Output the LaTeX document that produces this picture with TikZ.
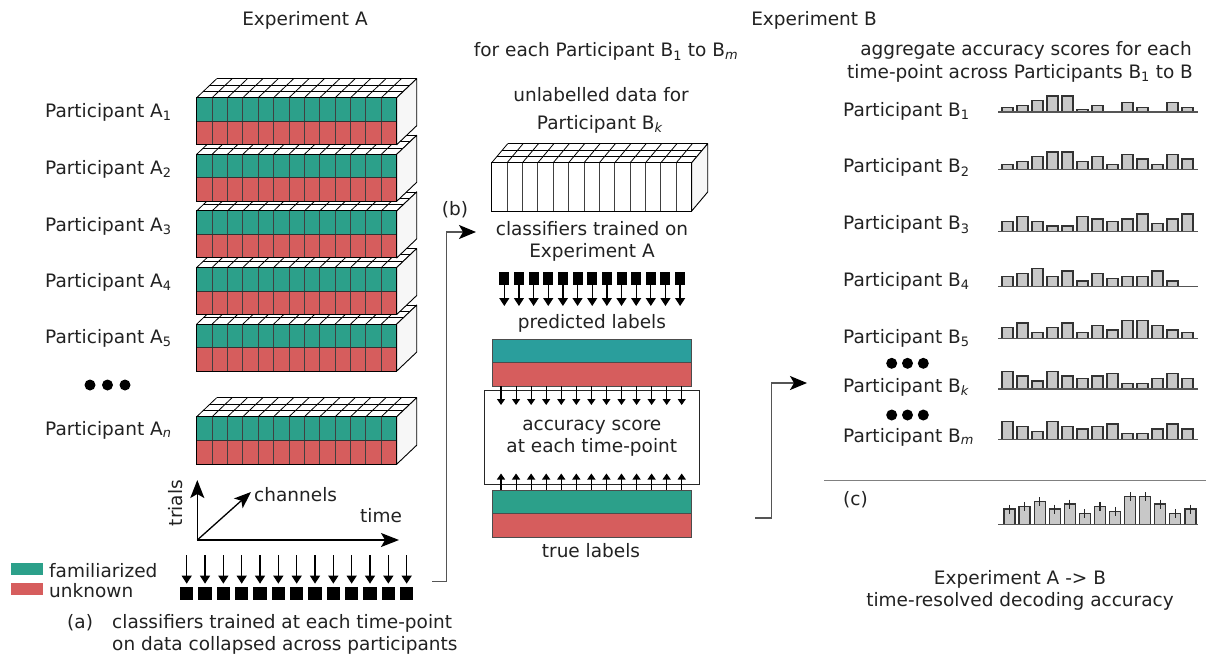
\documentclass[tikz,border=0pt]{standalone}
\usepackage{fontspec}
\setmainfont{DejaVu Sans}
\usetikzlibrary{arrows.meta}
\definecolor{fam}{HTML}{2CA08A}
\definecolor{famp}{HTML}{2A9E9C}
\definecolor{unk}{HTML}{D65D5D}
\definecolor{txt}{HTML}{222222}
\definecolor{conn}{HTML}{555555}
\definecolor{barfill}{HTML}{C8C8C8}
\definecolor{sidef}{HTML}{F7F7F7}
\newcommand{\dblk}[8]{% #1 x0, #2 ytop, #3 dx, #4 dy, #5 h, #6 upper, #7 lower, #8 middle line style
  \fill[white] (#1,#2) -- ++(200,0) -- ++(#3,-#4) -- ++(-200,0) -- cycle;
  \foreach \i in {0,...,13} \draw[gridline] ({#1+\i*200/13},#2) -- ++(#3,-#4);
  \foreach \f in {0.3333,0.6667,1} \draw[gridline] ({#1+\f*#3},{#2-\f*#4}) -- ++(200,0);
  \filldraw[fill=sidef,draw=black,line width=0.9pt,line join=round] (#1+200,#2) -- ++(#3,-#4) -- ++(0,#5) -- ++(-#3,#4) -- cycle;
  \fill[#6] (#1,#2) rectangle ++(200,{#5/2});
  \fill[#7] (#1,{#2+#5/2}) rectangle ++(200,{#5/2});
  \foreach \i in {1,...,12} \draw[cellline] ({#1+\i*200/13},#2) -- ++(0,#5);
  \draw[#8] (#1,{#2+#5/2}) -- ++(200,0);
  \draw[black,line width=1pt] (#1,#2) rectangle ++(200,#5);
}
\newcommand{\barrow}[2]{%
  \foreach \h [count=\k from 0] in {#2} {%
    \ifdim \h pt>0pt \filldraw[barst] ({1002+\k*15},#1) rectangle ++(11,-\h);\fi}
  \draw[baseln] (998,#1) -- (1198,#1);
}
\begin{document}
\begin{tikzpicture}[x=1pt,y=-1pt,
  lbl/.style={text=txt,font=\fontsize{18.5}{22}\selectfont,inner sep=0pt},
  gridline/.style={draw=black,line width=0.8pt},
  cellline/.style={draw=black!75,line width=1pt},
  midline/.style={draw=black!80,line width=1pt},
  nomid/.style={draw=none},
  barst/.style={fill=barfill,draw=black!80,line width=1.2pt},
  baseln/.style={draw=conn,line width=1.5pt},
  conarr/.style={draw=conn,line width=1.5pt,-{Stealth[length=17pt,width=14pt,inset=4pt,color=black]}},
  axarr/.style={draw=black,line width=1.5pt,-{Stealth[length=18pt,width=14pt,inset=4pt]}},
  smallarr/.style={draw=black,line width=1.3pt,-{Triangle[width=10pt,length=8pt]}},
  tinyarr/.style={draw=black,line width=1.1pt,-{Triangle[width=8pt,length=6pt]}},
  sqA/.style={fill=black,minimum width=13.3pt,minimum height=13.3pt,inner sep=0pt},
  sqB/.style={fill=black,minimum width=10pt,minimum height=13.3pt,inner sep=0pt},
  dot/.style={circle,fill=black,minimum size=11pt,inner sep=0pt}]
\useasboundingbox (0,0) rectangle (1206,659);
\fill[white] (0,0) rectangle (1206,659);

% ---------------- Experiment A ----------------
\node[lbl] (expA) at (305,20) {Experiment A};
\dblk{196.7}{416.7}{20}{19}{47.5}{fam}{unk}{midline}
\foreach \j in {4,3,2,1,0} {\dblk{196.7}{97.7+\j*56.6}{20}{19}{47}{fam}{unk}{midline}}
\node[lbl,anchor=west] (pa1) at (45,112) {Participant A\textsubscript{1}};
\node[lbl,anchor=west] (pa2) at (45,169) {Participant A\textsubscript{2}};
\node[lbl,anchor=west] (pa3) at (45,226) {Participant A\textsubscript{3}};
\node[lbl,anchor=west] (pa4) at (45,282) {Participant A\textsubscript{4}};
\node[lbl,anchor=west] (pa5) at (45,338) {Participant A\textsubscript{5}};
\node[lbl,anchor=west] (pan) at (45,430) {Participant A\textsubscript{\textit{n}}};
\node[dot] (da1) at (90,385) {};
\node[dot] (da2) at (107.5,385) {};
\node[dot] (da3) at (125,385) {};

% axes
\coordinate (ax0) at (197.3,540);
\coordinate (axT) at (197.3,480);
\coordinate (axX) at (399,540);
\coordinate (axC) at (251,492);
\draw[axarr] (ax0) -- (axT);
\draw[axarr] (ax0) -- (axX);
\draw[line width=1.3pt,-{Stealth[length=17pt,width=13pt,inset=4pt]}] (ax0) -- (axC);
\node[lbl,rotate=90] (trials) at (176,503) {trials};
\node[lbl,anchor=west] (chan) at (254,495) {channels};
\node[lbl] (time) at (381,516) {time};

% classifiers
\foreach \i in {0,...,12} {
  \node[sqA] (sa\i) at ({186.7+\i*18.33},593.5) {};
  \coordinate (ta\i) at ({186.7+\i*18.33},555);
  \draw[smallarr,shorten >=3pt] (ta\i) -- (sa\i.north);
}
% legend
\node[fill=fam,minimum width=32pt,minimum height=12pt,inner sep=0pt] (lgf) at (27,569) {};
\node[fill=unk,minimum width=32pt,minimum height=12pt,inner sep=0pt] (lgu) at (27,589) {};
\node[lbl,anchor=west] (lft) at (49,571) {familiarized};
\node[lbl,anchor=west] (lut) at (49,591) {unknown};
\node[lbl,anchor=west] (capa) at (67,623) {(a)};
\node[lbl,anchor=west,align=left] (capb) at (112,634) {classifiers trained at each time-point\\on data collapsed across participants};

% connector (a) -> (b)
\coordinate (c1a) at (432,581.7);
\coordinate (c1b) at (446.5,581.7);
\coordinate (c1c) at (446.5,232);
\coordinate (c1d) at (476,232);
\draw[conarr] (c1a) -- (c1b) -- (c1c) -- (c1d);
\node[lbl] (lb) at (455,210) {(b)};

% ---------------- Experiment B (middle) ----------------
\node[lbl] (expB) at (814,20) {Experiment B};
\node[lbl] (foreach) at (606,51.5) {for each Participant B\textsubscript{1} to B\textsubscript{\textit{m}}};
\node[lbl] (unl1) at (601,95) {unlabelled data for};
\node[lbl] (unl2) at (600,124) {Participant B\textsubscript{\textit{k}}};
\dblk{491.7}{162.7}{16}{19}{48.3}{white}{white}{nomid}
\node[lbl,align=center] (clf) at (592,241.5) {classifiers trained on\\Experiment A};
\foreach \i in {0,...,12} {
  \node[sqB] (sb\i) at ({504.3+\i*14.65},278.3) {};
  \coordinate (tb\i) at ({504.3+\i*14.65},306);
  \draw[smallarr] (sb\i.south) -- (tb\i);
}
\node[lbl] (pred) at (592,323) {predicted labels};
\filldraw[fill=famp,draw=black!70,line width=0.8pt] (492.3,339.3) rectangle (691.7,362.3);
\filldraw[fill=unk,draw=black!70,line width=0.8pt] (492.3,362.3) rectangle (691.7,386);
\node[draw=black!85,line width=1pt,fill=white,minimum width=215pt,minimum height=94.3pt,inner sep=0pt] (accbox) at (591.8,437.2) {};
\node[lbl,align=center] (acc) at (591.8,437.8) {accuracy score\\at each time-point};
\foreach \i in {0,...,12} {
  \coordinate (pd\i) at ({501+\i*15.06},386);
  \coordinate (pe\i) at ({501+\i*15.06},405);
  \draw[tinyarr] (pd\i) -- (pe\i);
  \coordinate (td\i) at ({501+\i*15.06},490);
  \coordinate (te\i) at ({501+\i*15.06},473.5);
  \draw[tinyarr] (td\i) -- (te\i);
}
\filldraw[fill=fam,draw=black!70,line width=0.8pt] (492.3,490) rectangle (691.7,513.3);
\filldraw[fill=unk,draw=black!70,line width=0.8pt] (492.3,513.3) rectangle (691.7,537.3);
\node[lbl] (truel) at (591,551) {true labels};

% connector (b) -> right
\coordinate (c2a) at (755,518);
\coordinate (c2b) at (771.7,518);
\coordinate (c2c) at (771.7,383);
\coordinate (c2d) at (807,383);
\draw[conarr] (c2a) -- (c2b) -- (c2c) -- (c2d);

% ---------------- right part ----------------
\node[lbl] (agg1) at (1026,50) {aggregate accuracy scores for each};
\node[lbl,anchor=west] (agg2) at (847,73) {time-point across Participants B\textsubscript{1} to B};
\node[lbl,anchor=west] (pb1) at (843,111) {Participant B\textsubscript{1}};
\node[lbl,anchor=west] (pb2) at (843,167.5) {Participant B\textsubscript{2}};
\node[lbl,anchor=west] (pb3) at (843,224.5) {Participant B\textsubscript{3}};
\node[lbl,anchor=west] (pb4) at (843,281) {Participant B\textsubscript{4}};
\node[lbl,anchor=west] (pb5) at (843,338) {Participant B\textsubscript{5}};
\node[lbl,anchor=west] (pbk) at (843,387) {Participant B\textsubscript{\textit{k}}};
\node[lbl,anchor=west] (pbm) at (843,437) {Participant B\textsubscript{\textit{m}}};
\node[dot] (db1) at (891.7,363.3) {};
\node[dot] (db2) at (907.5,363.3) {};
\node[dot] (db3) at (923.3,363.3) {};
\node[dot] (db4) at (891.7,415) {};
\node[dot] (db5) at (907.5,415) {};
\node[dot] (db6) at (923.3,415) {};

\barrow{112}{4.3,6.7,11.7,16,16,2.3,6.7,0,9.3,4.3,0,9.3,4.3}
\barrow{169.3}{5,7.7,12.7,17.3,17.3,7.7,12.7,5,15,10.3,5,15,10.3}
\barrow{231.7}{10.3,15.3,10.3,5.7,5.7,15.3,12.7,10.3,12.7,17.7,8,12.7,17.7}
\barrow{286.7}{10.3,13,18,10.3,15.7,5.7,13,8,10.3,10.3,15.7,5.7,0}
\barrow{338.3}{10.7,15.3,5.7,10.7,15.3,5.7,13,8.3,17.7,17.7,13,8.3,5.7}
\barrow{389}{17.7,13,8,17.7,13,10.3,13,15.3,5.7,5.7,10.3,15.3,10.3}
\barrow{439.3}{17.7,13,8,17.7,13,10.3,13,15.3,5.7,5.7,10.3,15.3,10.3}

\draw[draw=black!50,line width=1.5pt] (824,480.7) -- (1206,480.7);
\node[lbl,anchor=west] (lc) at (843,500) {(c)};
\foreach \h [count=\k from 0] in {15.3,18,22.7,15.3,20.3,10.7,18,13,27.7,27.7,20.3,10.7,15.3} {
  \filldraw[barst] ({1004+\k*15.08},524.3) rectangle ++(11,-\h);
  \draw[black!85,line width=1.1pt] ({1009.5+\k*15.08},{524.3-\h-4.5}) -- ++(0,9);
}
\draw[baseln] (998,524.3) -- (1198,524.3);
\node[lbl,align=center] (res) at (1020,590.5) {Experiment A -> B\\time-resolved decoding accuracy};
\end{tikzpicture}
\end{document}
